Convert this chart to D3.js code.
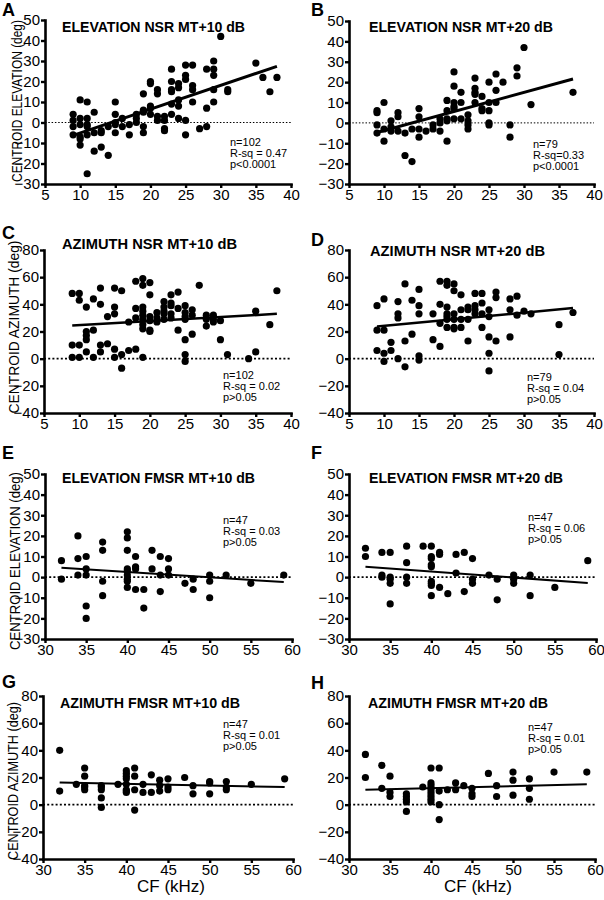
<!DOCTYPE html>
<html><head><meta charset="utf-8">
<script src="https://cdn.jsdelivr.net/npm/d3@7"></script>
<style>
body{margin:0;background:#fff}
svg{display:block}
text{font-family:"Liberation Sans",Arial,Helvetica,sans-serif;fill:#000}
</style>
</head><body>
<svg id="chart" width="604" height="900"></svg>
<script>
// ---------- tick labels ----------
const xTicksNSR = [5,10,15,20,25,30,35,40];
const xTicksFMSR = [30,35,40,45,50,55,60];
const yTicksElev = [-30,-20,-10,0,10,20,30,40,50];
const yTicksAzim = [-40,-20,0,20,40,60,80];

// ---------- titles / stats ----------
const titles = ["ELEVATION NSR MT+10 dB","ELEVATION NSR MT+20 dB","AZIMUTH NSR MT+10 dB","AZIMUTH NSR MT+20 dB",
  "ELEVATION FMSR MT+10 dB","ELEVATION FMSR MT+20 dB","AZIMUTH FMSR MT+10 dB","AZIMUTH FMSR MT+20 dB"];
const statsA = ["n=102","R-sq = 0.47","p<0.0001"];
const statsB = ["n=79","R-sq=0.33","p<0.0001"];
const statsC = ["n=102","R-sq = 0.02","p>0.05"];
const statsD = ["n=79","R-sq = 0.04","p>0.05"];
const statsE = ["n=47","R-sq = 0.03","p>0.05"];
const statsF = ["n=47","R-sq = 0.06","p>0.05"];
const statsG = ["n=47","R-sq = 0.01","p>0.05"];
const statsH = ["n=47","R-sq = 0.01","p>0.05"];

// ---------- data: [CF kHz, centroid deg] ----------
const ptsA = [[9,4],[9,1],[9,-2],[9,-6],[10,11],[10,2],[10,-1],[10,-7],[10,-8],[10,-11],
 [11,10],[11,2],[11,-1],[11,-2],[11,-6],[11,-25],[12,5],[12,-5],[12,-14],[13,-4],[13,-5],[13,-12],
 [14,-2],[14,-16],[15,10],[15,4],[15,0],[15,-1],[15,-5],[16,2],[16,-2],[17,-1],[17,-6],
 [18,4],[18,2],[18,0],[19,14],[19,6],[19,5],[19,-2],[19,-5],[20,20],[20,19],[20,8],[20,7],[20,4],
 [21,16],[21,14],[21,3],[21,1],[22,3],[22,1],[22,-3],[22,-4],[23,26],[23,20],[23,16],[23,15],[23,9],[23,4],
 [24,19],[24,17],[24,11],[24,8],[24,2],[25,28],[25,23],[25,21],[25,1],[25,-6],[26,28],[26,18],[26,16],[26,10],
 [27,-3],[28,26],[28,7],[28,-2],[29,30],[29,26],[29,23],[29,16],[29,10],[30,42],[31,16],[31,15],
 [35,29],[36,22],[37,15],[38,22]];
const ptsB = [[9,6],[9,5],[9,-1],[9,-5],[10,10],[10,-3],[10,-9],[11,1],[11,-2],[11,-4],
 [12,5],[12,3],[12,-4],[13,-5],[13,-16],[14,-3],[14,-19],[15,7],[15,3],[15,-3],[15,-7],[16,-4],
 [17,-1],[17,-3],[18,2],[18,0],[18,-4],[19,11],[19,6],[19,2],[19,1],[19,-9],
 [20,25],[20,18],[20,10],[20,8],[20,7],[20,2],[21,15],[21,10],[21,2],[22,4],[22,1],[22,-1],[22,-3],
 [23,22],[23,17],[23,15],[23,14],[23,10],[24,13],[24,7],[24,6],[25,20],[25,10],[25,6],[25,0],[25,-1],
 [26,24],[26,16],[26,10],[27,20],[28,-1],[28,-7],[29,27],[29,23],[30,37],[31,9],[37,15]];
const ptsC = [[9,48],[9,10],[9,1],[10,48],[10,43],[10,10],[10,1],[11,38],[11,20],[11,17],[11,14],[11,5],
 [12,44],[12,21],[12,1],[13,52],[13,40],[13,10],[13,5],[14,31],[14,11],[15,52],[15,38],[15,33],[15,7],[15,1],
 [16,50],[16,3],[16,-7],[17,27],[17,6],[18,57],[18,37],[18,30],[18,7],
 [19,59],[19,54],[19,38],[19,35],[19,32],[19,29],[19,25],[19,22],[19,1],
 [20,56],[20,47],[20,31],[20,28],[20,21],[20,20],[21,34],[21,30],[21,27],[22,42],[22,38],[22,35],[22,33],[22,29],
 [23,47],[23,41],[23,39],[23,33],[23,30],[24,49],[24,37],[24,21],[25,39],[25,34],[25,31],[25,29],[25,14],[25,3],[25,-2],
 [26,36],[26,32],[26,18],[27,54],[28,32],[28,29],[28,24],[29,32],[29,29],[29,27],[30,28],[30,14],[31,3],
 [34,0],[35,35],[35,5],[37,25],[38,50]];
const ptsD = [[9,39],[9,21],[9,6],[10,44],[10,21],[10,4],[10,-2],[11,12],[11,6],[12,42],[12,33],[12,30],[12,0],
 [13,55],[13,13],[13,-6],[14,43],[14,18],[15,51],[15,39],[15,33],[15,2],[15,-1],[17,33],[17,14],
 [18,57],[18,40],[18,26],[18,9],[19,57],[19,54],[19,38],[19,33],[19,31],[19,29],[19,23],
 [20,55],[20,50],[20,33],[20,29],[20,23],[20,22],[21,47],[21,36],[21,29],[21,23],[22,38],[22,36],[22,29],[22,13],
 [23,48],[23,39],[23,36],[23,33],[24,48],[24,41],[24,33],[24,23],[25,36],[25,31],[25,16],[25,4],[25,-9],
 [26,49],[26,45],[26,13],[28,44],[28,36],[28,16],[29,46],[29,32],[30,35],[31,33],[35,25],[35,3],[37,34]];
const ptsE = [[32,8],[32,-1],[34,20],[34,9],[34,1],[35,10],[35,4],[35,1],[35,-14],[35,-20],
 [37,17],[37,13],[37,-2],[37,-9],[40,22],[40,19],[40,13],[40,4],[40,3],[40,1],[40,-1],[40,-2],[40,-5],
 [41,10],[41,5],[41,4],[41,-6],[42,-6],[42,-15],[43,13],[43,4],[44,10],[44,1],[44,-7],[45,9],[45,4],[45,1],
 [47,-3],[48,-1],[48,-6],[50,1],[50,-2],[50,-10],[52,1],[55,-3],[59,1]];
const ptsF = [[32,14],[32,10],[34,12],[34,1],[34,0],[35,12],[35,0],[35,-1],[35,-3],[35,-13],
 [37,15],[37,7],[37,0],[37,-3],[39,15],[40,15],[40,10],[40,9],[40,6],[40,5],[40,-2],[40,-3],[40,-4],[40,-9],
 [41,12],[41,11],[41,-5],[42,-8],[43,11],[43,2],[44,12],[44,-7],[45,9],[45,-1],[45,-3],[47,1],
 [48,-1],[48,-11],[50,1],[50,-1],[50,-3],[52,1],[52,-9],[55,-5],[59,8]];
const ptsG = [[32,40],[32,10],[34,15],[35,27],[35,21],[35,14],[35,13],[35,11],[37,14],[37,13],[37,11],[37,5],[37,-2],
 [39,15],[40,25],[40,23],[40,21],[40,19],[40,15],[40,11],[40,10],[40,9],[41,27],[41,21],[41,11],[41,-4],
 [42,15],[42,9],[43,22],[43,9],[44,18],[44,14],[44,10],[45,19],[45,13],[45,11],[47,20],[48,14],[48,8],
 [50,17],[50,16],[50,8],[52,17],[52,13],[52,11],[55,15],[59,19]];
const ptsH = [[32,37],[32,20],[34,29],[34,12],[35,21],[35,9],[35,6],[37,8],[37,6],[37,4],[37,2],[37,-5],
 [39,13],[40,27],[40,16],[40,14],[40,12],[40,10],[40,8],[40,6],[40,4],[40,2],[41,27],[41,10],[41,0],[41,-11],
 [42,11],[43,16],[43,11],[44,14],[45,12],[45,8],[45,6],[47,23],[48,14],[48,6],[50,24],[50,18],[50,7],
 [52,19],[52,12],[52,4],[55,24],[59,24]];

// ---------- linear fits (end points) ----------
const fitA = [[9,-6.3],[38,27.4]];
const fitB = [[9,-4.7],[37,21.5]];
const fitC = [[9,24.4],[38,33]];
const fitD = [[9,23.6],[37,37.3]];
const fitE = [[32,4.5],[59,-2.4]];
const fitF = [[32,5],[59,-2.8]];
const fitG = [[32,16.4],[59,13]];
const fitH = [[32,11],[59,15]];

// ---------- layout ----------
const panels = [
 {L:"A",title:titles[0],tl:183,pts:ptsA,fit:fitA,stats:statsA,xd:[5,40],yd:[-30,50],xt:xTicksNSR,yt:yTicksElev,
  xr:[45,291],yr:[184,20],lx:2,ly:16,tx:62,ty:32,sx:230,sy:146,fw:3,zw:1,zd:"1.5,1.8",
  ylab:"CENTROID ELEVATION (deg)",ylx:22,yly:101,yll:162},
 {L:"B",title:titles[1],tl:184,pts:ptsB,fit:fitB,stats:statsB,xd:[5,40],yd:[-30,50],xt:xTicksNSR,yt:yTicksElev,
  xr:[349,594],yr:[184,21],lx:311,ly:16,tx:369,ty:32,sx:533,sy:148,fw:3,zw:1,zd:"1.5,1.8"},
 {L:"C",title:titles[2],tl:175,pts:ptsC,fit:fitC,stats:statsC,xd:[5,40],yd:[-40,80],xt:xTicksNSR,yt:yTicksAzim,
  xr:[44,291],yr:[413,250],lx:2,ly:239,tx:62,ty:249,sx:223,sy:379,fw:2.5,zw:1.8,zd:"2,2.2",
  ylab:"CENTROID AZIMUTH (deg)",ylx:19,yly:327,yll:173},
 {L:"D",title:titles[3],tl:175,pts:ptsD,fit:fitD,stats:statsD,xd:[5,40],yd:[-40,80],xt:xTicksNSR,yt:yTicksAzim,
  xr:[349,594],yr:[413,250],lx:311,ly:246,tx:370,ty:256,sx:527,sy:381,fw:2.5,zw:1.8,zd:"2,2.2"},
 {L:"E",title:titles[4],tl:193,pts:ptsE,fit:fitE,stats:statsE,xd:[30,60],yd:[-30,50],xt:xTicksFMSR,yt:yTicksElev,
  xr:[45,292],yr:[639,474],lx:2,ly:459,tx:62,ty:483,sx:223,sy:524,fw:2,zw:1.8,zd:"2,2.2",
  ylab:"CENTROID ELEVATION (deg)",ylx:20,yly:561,yll:178},
 {L:"F",title:titles[5],tl:194,pts:ptsF,fit:fitF,stats:statsF,xd:[30,60],yd:[-30,50],xt:xTicksFMSR,yt:yTicksElev,
  xr:[349,596],yr:[639,474],lx:311,ly:459,tx:369,ty:483,sx:528,sy:521,fw:2,zw:1.8,zd:"2,2.2"},
 {L:"G",title:titles[6],tl:180,pts:ptsG,fit:fitG,stats:statsG,xd:[30,60],yd:[-40,80],xt:xTicksFMSR,yt:yTicksAzim,
  xr:[43,293],yr:[859,696],lx:2,ly:688,tx:60,ty:708,sx:223,sy:728,fw:2,zw:1.8,zd:"2,2.2",
  ylab:"CENTROID AZIMUTH (deg)",ylx:18,yly:781,yll:158,xlab:"CF (kHz)",xlx:171,xly:892},
 {L:"H",title:titles[7],tl:180,pts:ptsH,fit:fitH,stats:statsH,xd:[30,60],yd:[-40,80],xt:xTicksFMSR,yt:yTicksAzim,
  xr:[349,595],yr:[859,696],lx:311,ly:689,tx:368,ty:708,sx:528,sy:731,fw:2,zw:1.8,zd:"2,2.2",
  xlab:"CF (kHz)",xlx:478,xly:892}
];

const svg = d3.select("#chart");

panels.forEach(p => {
  const x = d3.scaleLinear().domain(p.xd).range(p.xr);
  const y = d3.scaleLinear().domain(p.yd).range(p.yr);
  const g = svg.append("g");

  // zero line
  g.append("line")
    .attr("x1", x.range()[0]).attr("x2", x.range()[1])
    .attr("y1", y(0)).attr("y2", y(0))
    .attr("stroke", "#000").attr("stroke-width", p.zw)
    .attr("stroke-dasharray", p.zd);

  // axes
  const yAxis = d3.axisLeft(y).tickValues(p.yt).tickSize(4).tickSizeOuter(0).tickPadding(1)
     .tickFormat(d3.format("d"));
  const xAxis = d3.axisBottom(x).tickValues(p.xt).tickSize(4).tickSizeOuter(0).tickPadding(1)
     .tickFormat(d3.format("d"));
  const ga = g.append("g").attr("transform", `translate(${p.xr[0]},0)`).call(yAxis);
  const gb = g.append("g").attr("transform", `translate(0,${p.yr[0]})`).call(xAxis);
  [ga, gb].forEach(a => {
    a.attr("font-family", null).attr("font-size", null);
    a.select(".domain").attr("stroke", "#000").attr("stroke-width", 2.6).attr("stroke-linecap", "square");
    a.selectAll(".tick line").attr("stroke", "#000").attr("stroke-width", 2.4);
    a.selectAll(".tick text").attr("font-size", 15).attr("fill", "#000");
  });

  // fit line
  g.append("path")
    .datum(p.fit)
    .attr("d", d3.line().x(d => x(d[0])).y(d => y(d[1])))
    .attr("fill", "none").attr("stroke", "#000").attr("stroke-width", p.fw);

  // points
  g.selectAll("circle.pt").data(p.pts).enter().append("circle")
    .attr("class", "pt")
    .attr("cx", d => x(d[0])).attr("cy", d => y(d[1])).attr("r", 3.6)
    .attr("fill", "#000");

  // title
  g.append("text").attr("x", p.tx).attr("y", p.ty)
    .attr("font-size", 15).attr("font-weight", "bold")
    .attr("textLength", p.tl).attr("lengthAdjust", "spacingAndGlyphs")
    .text(p.title);

  // panel letter
  g.append("text").attr("x", p.lx).attr("y", p.ly)
    .attr("font-size", 18).attr("font-weight", "bold").text(p.L);

  // stats
  p.stats.forEach((s, i) => {
    g.append("text").attr("x", p.sx).attr("y", p.sy + i * 11.2)
      .attr("font-size", 11).attr("fill", "#111").text(s);
  });

  // y label (scaled along its length to the measured span)
  if (p.ylab) {
    const t = g.append("text")
      .attr("text-anchor", "middle").attr("font-size", 15)
      .text(p.ylab);
    const nat = t.node().getComputedTextLength() || p.yll;
    const k = p.yll / nat;
    t.attr("transform", `translate(${p.ylx},${p.yly}) rotate(-90) scale(${k},1)`);
  }
  // x label
  if (p.xlab) {
    g.append("text").attr("x", p.xlx).attr("y", p.xly)
      .attr("text-anchor", "middle").attr("font-size", 17).text(p.xlab);
  }
});
</script>
</body></html>
